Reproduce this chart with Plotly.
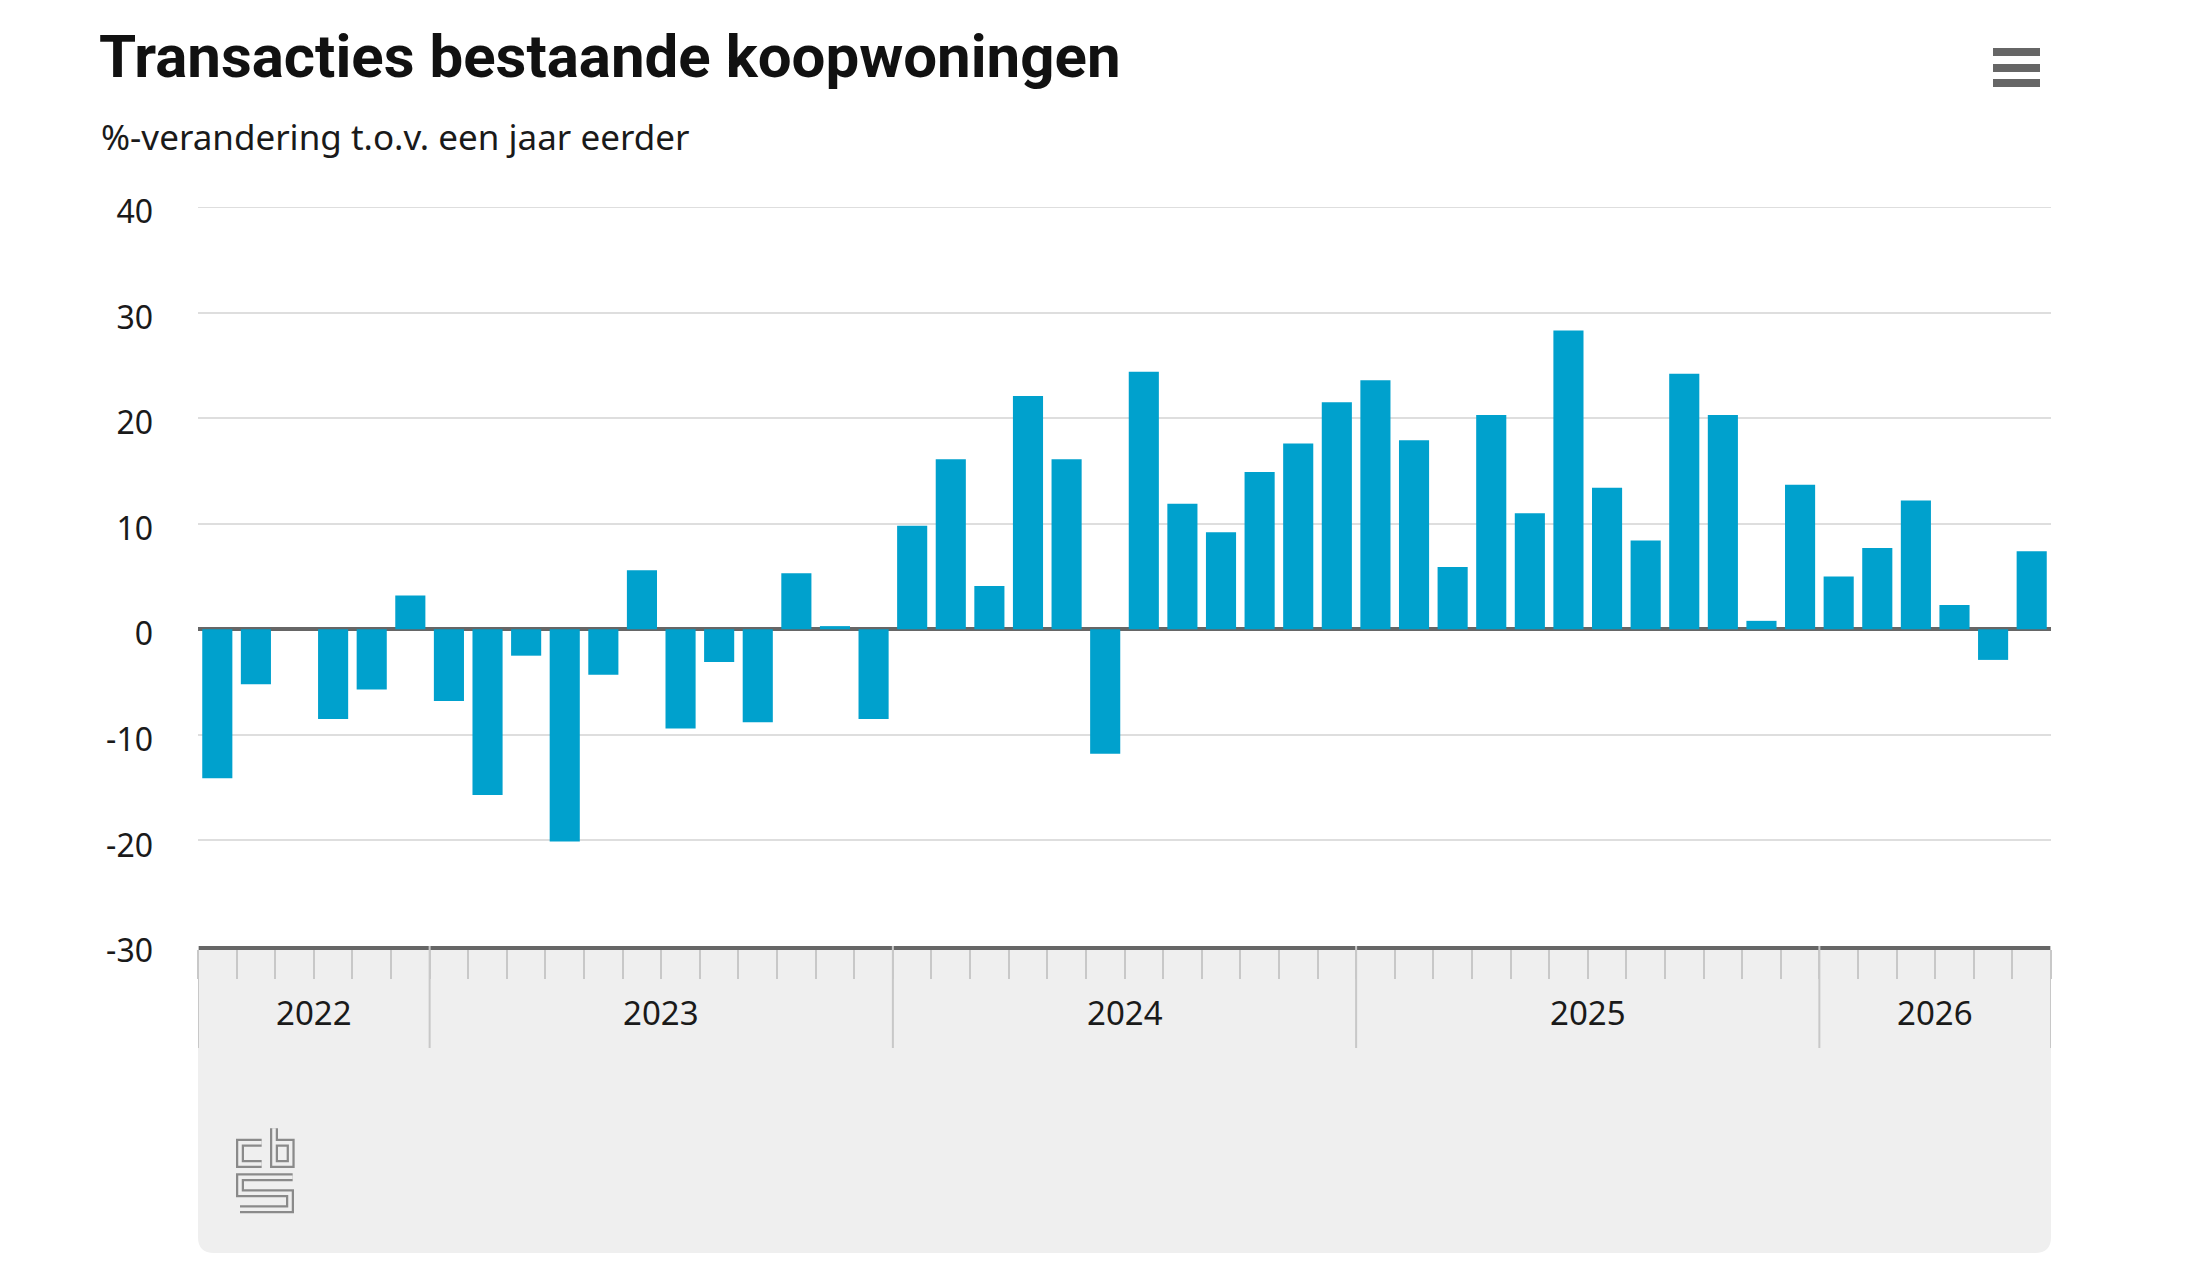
import plotly.graph_objects as go

# ---- data ----
years = ["2022", "2023", "2024", "2025", "2026"]
months_per_year = [6, 12, 12, 12, 6]
month_names = ["jan", "feb", "mrt", "apr", "mei", "jun", "jul", "aug", "sep", "okt", "nov", "dec"]
start_month = 7  # July 2022

values = [
    -14.1, -5.2, None, -8.5, -5.7, 3.2,
    -6.8, -15.7, -2.5, -20.1, -4.3, 5.6, -9.4, -3.1, -8.8, 5.3, 0.3, -8.5,
    9.8, 16.1, 4.1, 22.1, 16.1, -11.8, 24.4, 11.9, 9.2, 14.9, 17.6, 21.5,
    23.6, 17.9, 5.9, 20.3, 11.0, 28.3, 13.4, 8.4, 24.2, 20.3, 0.8, 13.7,
    5.0, 7.7, 12.2, 2.3, -2.9, 7.4,
]
y_ticks = [-30, -20, -10, 0, 10, 20, 30, 40]
y_tick_labels = ["-30", "-20", "-10", "0", "10", "20", "30", "40"]

title_text = "Transacties bestaande koopwoningen"
subtitle_text = "%-verandering t.o.v. een jaar eerder"

# build category labels
categories = []
m = start_month
for y, n in zip(years, months_per_year):
    for k in range(n):
        categories.append(f"{y} {month_names[m - 1]}")
        m = m % 12 + 1

# ---- geometry helpers (pixel -> paper) ----
W, H = 2200, 1280
L, R, T, B = 198, 2051, 207, 946
def px(x):
    return (x - L) / (R - L)
def py(y):
    return (B - y) / (B - T)

BLUE = "#00a1cd"
fig = go.Figure()
fig.add_trace(go.Bar(x=categories, y=values, marker=dict(color=BLUE, line=dict(width=0)),
                     hoverinfo="x+y"))

shapes = []
# gray box below axis
r = 16
bx0, bx1, by0, by1 = 0, 1, py(B), py(1253)
rx = r / (R - L)
ry = r / (B - T)
shapes.append(dict(type="path", xref="paper", yref="paper", layer="below",
                   path=f"M {bx0},{by0} L {bx1},{by0} L {bx1},{by1 + ry} Q {bx1},{by1} {bx1 - rx},{by1} "
                        f"L {bx0 + rx},{by1} Q {bx0},{by1} {bx0},{by1 + ry} Z",
                   fillcolor="#efefef", line=dict(width=0)))

# top gridline (at the range edge)
shapes.append(dict(type="line", xref="paper", yref="y", x0=0, x1=1, y0=y_ticks[-1], y1=y_ticks[-1],
                   layer="below", line=dict(color="#dedede", width=2)))

# year separators and labels
annotations = []
pos = -0.5
bounds = [pos]
for n in months_per_year:
    pos += n
    bounds.append(pos)
for b in bounds:
    shapes.append(dict(type="line", xref="x", yref="paper", x0=b, x1=b, y0=0, y1=py(1048),
                       line=dict(color="#c8c8c8", width=2)))
for i, y in enumerate(years):
    c = (bounds[i] + bounds[i + 1]) / 2
    annotations.append(dict(text=y, xref="x", yref="paper", x=c, y=py(1012), showarrow=False,
                            xanchor="center", yanchor="middle",
                            font=dict(family="Noto Sans", size=33, color="#1a1a1a")))

# subtitle
annotations.append(dict(text=subtitle_text, xref="paper", yref="paper", x=px(99), y=py(136),
                        xanchor="left", yanchor="middle", showarrow=False,
                        font=dict(family="Noto Sans", size=35, color="#1a1a1a")))

# menu icon
for yy in (52, 68, 83):
    shapes.append(dict(type="line", xref="paper", yref="paper", x0=px(1993), x1=px(2040),
                       y0=py(yy), y1=py(yy), line=dict(color="#666666", width=8)))

# cbs logo (approximate), coordinates from a 3x zoom at offset (180,1080)
def zp(zx, zy):
    return px(180 + zx / 3), py(1080 + zy / 3)
logo_paths = [
    [(245, 188), (180, 188), (180, 252), (245, 252)],
    [(282, 145), (282, 252), (332, 252), (332, 188), (282, 188)],
    [(338, 292), (180, 292), (180, 340), (330, 340), (330, 388), (180, 388)],
]
for lw, col in ((8, "#8a8a8a"), (3.5, "#efefef")):
    for pts in logo_paths:
        p = " ".join(("M" if i == 0 else "L") + f" {zp(*q)[0]},{zp(*q)[1]}" for i, q in enumerate(pts))
        shapes.append(dict(type="path", xref="paper", yref="paper", path=p,
                           line=dict(color=col, width=lw)))

fig.update_layout(
    width=W, height=H,
    margin=dict(l=L, r=W - R, t=T, b=H - B, pad=0),
    paper_bgcolor="white", plot_bgcolor="white",
    bargap=0.22, showlegend=False,
    title=dict(text=f"<b>{title_text}</b>", x=99 / W, xanchor="left", xref="container",
               y=1 - 56 / H, yanchor="middle", yref="container",
               font=dict(family="Liberation Sans Narrow, Roboto, sans-serif", size=60, color="#111111")),
    xaxis=dict(type="category", tickson="boundaries", ticks="outside", ticklen=29,
               tickcolor="#c8c8c8", tickwidth=2, showticklabels=False, showgrid=False,
               showline=True, linecolor="#666666", linewidth=4, zeroline=False,
               range=[-0.5, len(categories) - 0.5]),
    yaxis=dict(range=[-30, 40], tickvals=y_ticks, ticktext=y_tick_labels,
               showgrid=True, gridcolor="#dedede", gridwidth=2,
               zeroline=True, zerolinecolor="#666666", zerolinewidth=4, showline=False,
               ticks="", ticklabelstandoff=44, ticklabelshift=5,
               tickfont=dict(family="Noto Sans", size=32, color="#1a1a1a")),
    shapes=shapes,
    annotations=annotations,
)

fig.write_html("out.html")
